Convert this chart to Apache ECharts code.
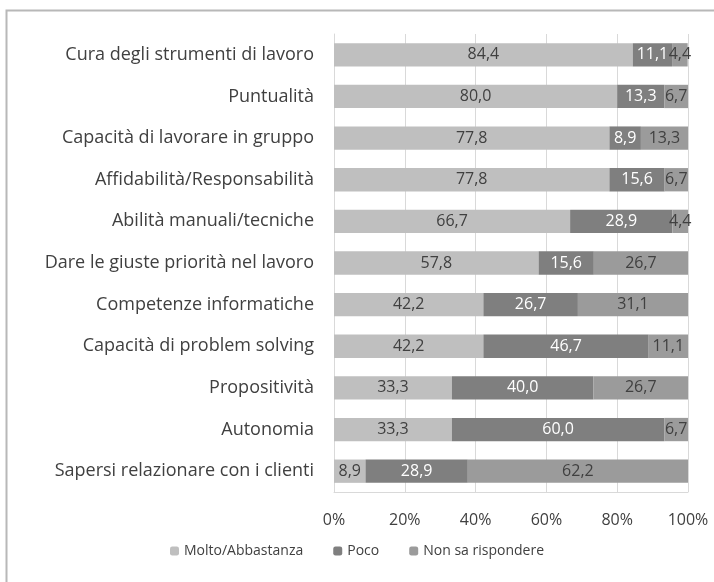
<!DOCTYPE html>
<html>
<head>
<meta charset="utf-8">
<script src="https://cdn.jsdelivr.net/npm/echarts@6/dist/echarts.min.js"></script>
<style>
html, body { margin: 0; padding: 0; background: #fff; }
#main { width: 714px; height: 582px; }
</style>
</head>
<body>
<div id="main"></div>
<script>
var categories = [
	'Cura degli strumenti di lavoro',
	'Puntualità',
	'Capacità di lavorare in gruppo',
	'Affidabilità/Responsabilità',
	'Abilità manuali/tecniche',
	'Dare le giuste priorità nel lavoro',
	'Competenze informatiche',
	'Capacità di problem solving',
	'Propositività',
	'Autonomia',
	'Sapersi relazionare con i clienti'
];
var molto = [84.4, 80.0, 77.8, 77.8, 66.7, 57.8, 42.2, 42.2, 33.3, 33.3, 8.9];
var poco = [11.1, 13.3, 8.9, 15.6, 28.9, 15.6, 26.7, 46.7, 40.0, 60.0, 28.9];
var nonSa = [4.4, 6.7, 13.3, 6.7, 4.4, 26.7, 31.1, 11.1, 26.7, 6.7, 62.2];
var xTicks = [0, 20, 40, 60, 80, 100];

var font = 'Open Sans';

function fmt(p) {
	return p.value.toFixed(1).replace('.', ',');
}

function serie(name, data, color, textColor) {
	return {
		name: name,
		type: 'bar',
		stack: 'tot',
		barWidth: '56%',
		data: data,
		itemStyle: { color: color },
		label: {
			show: true,
			position: 'inside',
			formatter: fmt,
			color: textColor,
			fontFamily: font,
			fontSize: 16
		}
	};
}

var myChart = echarts.init(document.getElementById('main'));
var option = {
	animation: false,
	textStyle: { fontFamily: font },
	graphic: [{
		type: 'rect',
		shape: { x: 6.5, y: 10.5, width: 800, height: 700 },
		style: { fill: 'none', stroke: '#b8b8b8', lineWidth: 2 },
		silent: true
	}],
	grid: { left: 334, right: 26, top: 34, bottom: 90, containLabel: false },
	legend: {
		bottom: 19,
		left: 'center',
		itemWidth: 9,
		itemHeight: 9,
		itemGap: 30,
		textStyle: { fontFamily: font, fontSize: 14, color: '#404040' },
		data: ['Molto/Abbastanza', 'Poco', 'Non sa rispondere']
	},
	xAxis: {
		type: 'value',
		min: xTicks[0],
		max: xTicks[xTicks.length - 1],
		interval: 20,
		axisLine: { show: true, lineStyle: { color: '#d9d9d9' } },
		axisTick: { show: false },
		splitLine: { show: true, lineStyle: { color: '#d9d9d9' } },
		axisLabel: {
			formatter: '{value}%',
			color: '#404040',
			fontFamily: font,
			fontSize: 16,
			margin: 20
		}
	},
	yAxis: {
		type: 'category',
		inverse: true,
		data: categories,
		axisLine: { show: true, lineStyle: { color: '#d9d9d9' } },
		axisTick: { show: false },
		axisLabel: {
			color: '#404040',
			fontFamily: font,
			fontSize: 18,
			margin: 20
		}
	},
	series: [
		serie('Molto/Abbastanza', molto, '#bfbfbf', '#404040'),
		serie('Poco', poco, '#7f7f7f', '#ffffff'),
		serie('Non sa rispondere', nonSa, '#9b9b9b', '#404040')
	]
};
myChart.setOption(option);
</script>
</body>
</html>
